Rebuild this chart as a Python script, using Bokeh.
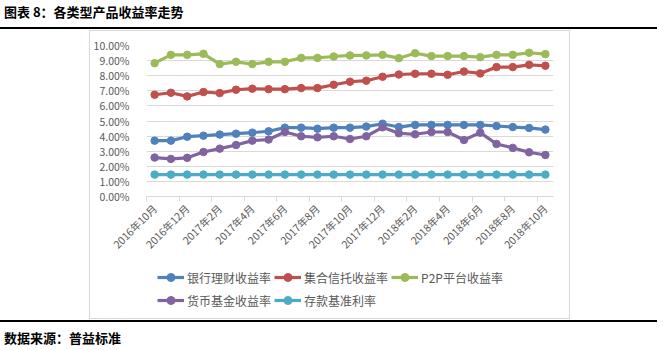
from bokeh.plotting import figure
from bokeh.models import (FixedTicker, PrintfTickFormatter, Legend, LegendItem,
                          Range1d, Div, Spacer)
from bokeh.layouts import column, row
from bokeh.embed import file_html
from bokeh.resources import INLINE

months = ["2016年10月", "2016年11月", "2016年12月", "2017年1月", "2017年2月", "2017年3月",
          "2017年4月", "2017年5月", "2017年6月", "2017年7月", "2017年8月", "2017年9月",
          "2017年10月", "2017年11月", "2017年12月", "2018年1月", "2018年2月", "2018年3月",
          "2018年4月", "2018年5月", "2018年6月", "2018年7月", "2018年8月", "2018年9月",
          "2018年10月"]

bank = [3.70, 3.70, 3.96, 4.03, 4.10, 4.16, 4.23, 4.32, 4.56, 4.56, 4.49, 4.56, 4.56,
        4.63, 4.82, 4.60, 4.74, 4.74, 4.74, 4.74, 4.74, 4.67, 4.60, 4.54, 4.43]
trust = [6.74, 6.87, 6.63, 6.92, 6.85, 7.07, 7.14, 7.11, 7.11, 7.18, 7.18, 7.40, 7.60,
         7.67, 7.93, 8.08, 8.13, 8.13, 8.06, 8.28, 8.15, 8.57, 8.57, 8.72, 8.66]
p2p = [8.83, 9.38, 9.38, 9.45, 8.77, 8.92, 8.77, 8.92, 8.92, 9.18, 9.18, 9.27, 9.34,
       9.34, 9.38, 9.16, 9.49, 9.30, 9.30, 9.30, 9.23, 9.38, 9.38, 9.52, 9.43]
money = [2.58, 2.49, 2.56, 2.95, 3.17, 3.41, 3.70, 3.77, 4.27, 3.99, 3.92, 3.99, 3.81,
         3.99, 4.58, 4.19, 4.12, 4.27, 4.27, 3.74, 4.23, 3.48, 3.22, 2.93, 2.75]
deposit = [1.45] * 25

series_names = ["银行理财收益率", "集合信托收益率", "P2P平台收益率", "货币基金收益率", "存款基准利率"]
series_values = [bank, trust, p2p, money, deposit]
colors = ["#4F81BD", "#C0504D", "#9BBB59", "#8064A2", "#4BACC6"]

y_ticks = [0, 1, 2, 3, 4, 5, 6, 7, 8, 9, 10]

title_text = "图表 8：各类型产品收益率走势"
source_text = "数据来源：普益标准"

FONT = "Noto Sans CJK SC"
GREY = "#595959"

# chart box: canvas x 90..569, y 31..318 ; frame x 144..553, y 45..196
BOX_L, BOX_T, BOX_W, BOX_H = 90, 31, 479, 287
FL, FR, FT, FB = 144, 553, 45, 196
LEG_TOP = 264  # canvas y where the legend strip starts

LINE_W = 3.2
MARK = 7.5

p = figure(width=BOX_W, height=LEG_TOP - BOX_T, output_backend="svg",
           toolbar_location=None,
           min_border_left=FL - BOX_L, min_border_right=BOX_L + BOX_W - FR,
           min_border_top=FT - BOX_T, min_border_bottom=LEG_TOP - FB, margin=0)
p.x_range = Range1d(-0.5, len(months) - 0.5)
p.y_range = Range1d(0, 10)
p.outline_line_color = None

x = list(range(len(months)))
for vals, c in zip(series_values, colors):
    p.line(x, vals, line_color=c, line_width=LINE_W)
    p.scatter(x, vals, size=MARK, fill_color=c, line_color=c)

p.xgrid.grid_line_color = None
p.ygrid.grid_line_color = "#D9D9D9"
p.ygrid.grid_line_width = 1

p.yaxis.ticker = FixedTicker(ticks=y_ticks)
p.yaxis.formatter = PrintfTickFormatter(format="%.2f%%")
p.yaxis.axis_line_color = None
p.yaxis.major_tick_line_color = None
p.yaxis.minor_tick_line_color = None
p.yaxis.major_label_standoff = 11
p.yaxis.major_label_text_font = FONT
p.yaxis.major_label_text_font_size = "10.5px"
p.yaxis.major_label_text_color = GREY

label_idx = list(range(0, len(months), 2))
p.xaxis.ticker = FixedTicker(ticks=label_idx,
                             minor_ticks=[i - 0.5 for i in range(0, len(months) + 1, 2)])
p.xaxis.major_label_overrides = {i: months[i] for i in label_idx}
p.xaxis.major_label_orientation = 0.785398
p.xaxis.axis_line_color = "#D9D9D9"
p.xaxis.major_tick_line_color = None
p.xaxis.minor_tick_line_color = "#D9D9D9"
p.xaxis.minor_tick_out = 5
p.xaxis.minor_tick_in = 0
p.xaxis.major_label_standoff = 4
p.xaxis.major_label_text_font = FONT
p.xaxis.major_label_text_font_size = "10.5px"
p.xaxis.major_label_text_color = GREY

# legend strip: its own small figure (no axes) whose frame is the whole strip
LEG_H = BOX_T + BOX_H - LEG_TOP
q = figure(width=BOX_W, height=LEG_H, output_backend="svg", toolbar_location=None,
           min_border=0, margin=0, x_range=Range1d(0, 1), y_range=Range1d(0, 1),
           x_axis_location=None, y_axis_location=None)
q.grid.visible = False
q.outline_line_color = None
items = []
for name, c in zip(series_names, colors):
    # points placed outside the strip's ranges, only used for the legend glyph
    r1 = q.line([5, 6], [5, 6], line_color=c, line_width=LINE_W)
    r2 = q.scatter([5], [5], size=MARK, fill_color=c, line_color=c)
    items.append(LegendItem(label=name, renderers=[r1, r2]))

legend = Legend(items=items, location=(11, BOX_T + BOX_H - 310),
                orientation="horizontal", ncols=3,
                border_line_color=None, background_fill_alpha=0,
                padding=0, margin=0, spacing=3, glyph_width=27, glyph_height=20,
                label_standoff=3, label_height=20,
                label_text_font=FONT, label_text_font_size="12px",
                label_text_color=GREY)
q.add_layout(legend, "center")

chart_box = column(p, q, margin=0, spacing=0,
                   styles={"outline": "1px solid #D9D9D9"})

title_div = Div(
    text=('<div style="position:relative;width:666px;height:31px;">'
          '<div style="position:absolute;left:4px;top:4px;font-family:\'Noto Sans CJK SC\';'
          'font-weight:bold;font-size:13px;line-height:15px;color:#000;white-space:nowrap;">'
          + title_text + '</div>'
          '<div style="position:absolute;left:0;top:27px;width:657px;height:2px;'
          'background:#000;"></div></div>'),
    width=666, height=BOX_T, margin=0)

footer_div = Div(
    text=('<div style="position:relative;width:666px;height:32px;">'
          '<div style="position:absolute;left:0;top:2px;width:657px;height:2px;'
          'background:#000;"></div>'
          '<div style="position:absolute;left:4px;top:12px;font-family:\'Noto Sans CJK SC\';'
          'font-weight:bold;font-size:13px;line-height:15px;color:#000;white-space:nowrap;">'
          + source_text + '</div></div>'),
    width=666, height=350 - BOX_T - BOX_H, margin=0)

layout = column(title_div,
                row(Spacer(width=BOX_L, height=BOX_H, margin=0), chart_box,
                    margin=0, spacing=0),
                footer_div, margin=0, spacing=0)

open("out.html", "w").write(file_html(layout, INLINE))
